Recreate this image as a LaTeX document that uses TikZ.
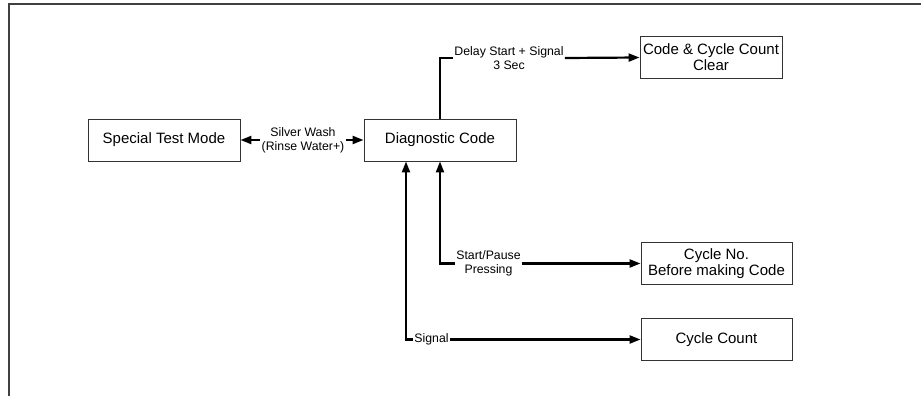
\documentclass[tikz,border=0pt]{standalone}
\usepackage{fontspec}
\setmainfont{Liberation Sans}
\usetikzlibrary{arrows.meta}
\begin{document}
\begin{tikzpicture}[x=1pt,y=-1pt,
  box/.style={draw=black!80, line width=0.9pt, minimum width=152pt, minimum height=42pt,
    inner sep=0pt, align=center, font=\fontsize{15}{16}\selectfont},
  lbl/.style={fill=white, inner sep=1.2pt, align=center, font=\fontsize{12.3}{14}\selectfont},
  conn/.style={line width=2.2pt, black},
  tip/.style={-{Triangle[length=11pt,width=8pt]}},
  rtip/.style={{Triangle[length=11pt,width=8pt]}-}
]
\useasboundingbox (0,0) rectangle (921,396);
% frame
\draw[line width=1.5pt, black!75] (9,396) -- (9,4) -- (921,4);

% boxes
\node[box] (stm) at (164,140) {Special Test Mode};
\node[box] (dc) at (440,140) {Diagnostic Code};
\node[box, minimum width=142pt] (ccc) at (711,57.5) {Code \& Cycle Count\\Clear};
\node[box, minimum width=151pt] (cno) at (716.5,263.5) {Cycle No.\\Before making Code};
\node[box, minimum width=151pt] (cc) at (716.5,339.5) {Cycle Count};

% labels
\node[lbl] (lsw) at (303,140) {Silver Wash\\(Rinse Water+)};
\node[lbl] (lds) at (509,58) {Delay Start + Signal\\3 Sec};
\node[lbl] (lsp) at (488.5,263.5) {Start/Pause\\Pressing};
\node[lbl, inner sep=0.8pt] (lsg) at (431.5,339.5) {Signal};
\coordinate (s0) at ([xshift=-34pt]dc.south);

% connectors
\draw[conn,tip] (lsw.west) -- (stm.east);
\draw[conn,tip] (lsw.east) -- (dc.west);
\draw[conn] (dc.north) |- (lds.west);
\draw[conn,tip] (lds.east) -- (ccc.west);
\draw[conn,rtip] (dc.south) |- (lsp.west);
\draw[conn,tip] (lsp.east) -- (cno.west);
\draw[conn,rtip] (s0) |- (lsg.west);
\draw[conn,tip] (lsg.east) -- (cc.west);
\end{tikzpicture}
\end{document}
